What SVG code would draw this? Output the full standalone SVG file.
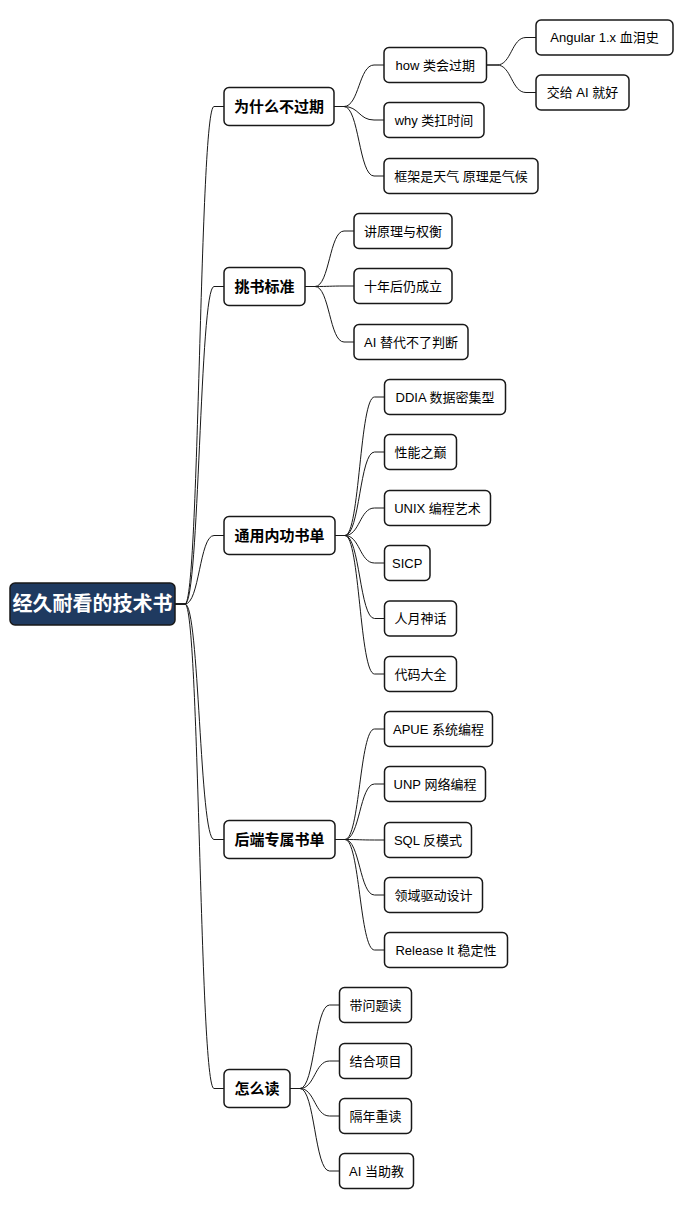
<svg xmlns="http://www.w3.org/2000/svg" width="693" height="1209" viewBox="0 0 693 1209">
<style>
.bg{fill:#ffffff}
.conn path{fill:none;stroke:#181818;stroke-width:1}
.box{fill:#ffffff;stroke:#181818;stroke-width:1.5}
.rootbox{fill:#1f3a60;stroke:#181818;stroke-width:1.5}
text{font-family:"Liberation Sans","Noto Sans CJK SC",sans-serif;text-anchor:middle;dominant-baseline:central;fill:#000000}
.t2{font-size:13px}
.t1{font-size:15px;font-weight:bold}
.t0{font-size:20px;font-weight:bold;fill:#ffffff}
</style>
<rect class="bg" x="0" y="0" width="693" height="1209"/>
<g id="connectors" class="conn">
<path d="M175,604 H185 C199.5,604 199.5,106.5 214,106.5 H224"/>
<path d="M175,604 H185 C199.5,604 199.5,286.5 214,286.5 H224"/>
<path d="M175,604 H185 C199.5,604 199.5,535.5 214,535.5 H224"/>
<path d="M175,604 H185 C199.5,604 199.5,839.5 214,839.5 H224"/>
<path d="M175,604 H185 C199.5,604 199.5,1088.5 214,1088.5 H224"/>
<path d="M334,106.5 H344 C359,106.5 359,65 374,65 H384"/>
<path d="M334,106.5 H344 C359,106.5 359,120 374,120 H384"/>
<path d="M334,106.5 H344 C359,106.5 359,176 374,176 H384"/>
<path d="M486.5,65 H497 C511.5,65 511.5,37.5 526,37.5 H536"/>
<path d="M486.5,65 H497 C511.5,65 511.5,92.5 526,92.5 H536"/>
<path d="M305,286.5 H315 C329.5,286.5 329.5,231 344,231 H354"/>
<path d="M305,286.5 H315 C329.5,286.5 329.5,286 344,286 H354"/>
<path d="M305,286.5 H315 C329.5,286.5 329.5,342 344,342 H354"/>
<path d="M335,535.5 H345 C359.75,535.5 359.75,397 374.5,397 H384.5"/>
<path d="M335,535.5 H345 C359.75,535.5 359.75,452 374.5,452 H384.5"/>
<path d="M335,535.5 H345 C359.75,535.5 359.75,508 374.5,508 H384.5"/>
<path d="M335,535.5 H345 C359.75,535.5 359.75,563 374.5,563 H384.5"/>
<path d="M335,535.5 H345 C359.75,535.5 359.75,618.5 374.5,618.5 H384.5"/>
<path d="M335,535.5 H345 C359.75,535.5 359.75,674 374.5,674 H384.5"/>
<path d="M335,839.5 H345 C359.75,839.5 359.75,729 374.5,729 H384.5"/>
<path d="M335,839.5 H345 C359.75,839.5 359.75,784 374.5,784 H384.5"/>
<path d="M335,839.5 H345 C359.75,839.5 359.75,840 374.5,840 H384.5"/>
<path d="M335,839.5 H345 C359.75,839.5 359.75,895 374.5,895 H384.5"/>
<path d="M335,839.5 H345 C359.75,839.5 359.75,950 374.5,950 H384.5"/>
<path d="M290,1088.5 H300 C314.75,1088.5 314.75,1005 329.5,1005 H339.5"/>
<path d="M290,1088.5 H300 C314.75,1088.5 314.75,1061 329.5,1061 H339.5"/>
<path d="M290,1088.5 H300 C314.75,1088.5 314.75,1116 329.5,1116 H339.5"/>
<path d="M290,1088.5 H300 C314.75,1088.5 314.75,1171 329.5,1171 H339.5"/>
</g>
<g id="root"><rect class="rootbox" x="10" y="583" width="165" height="42" rx="5"/><text class="t0" x="92.5" y="604">经久耐看的技术书</text></g>
<g id="n-why"><rect class="box" x="224" y="87.5" width="110" height="38" rx="5"/><text class="t1" x="279" y="106.5">为什么不过期</text></g>
<g id="n-how"><rect class="box" x="384" y="47.5" width="102.5" height="35" rx="5"/><text class="t2" x="435.25" y="65">how 类会过期</text></g>
<g id="n-angular"><rect class="box" x="536" y="20" width="137" height="35" rx="5"/><text class="t2" x="604.5" y="37.5">Angular 1.x 血泪史</text></g>
<g id="n-ai"><rect class="box" x="536" y="75" width="93" height="35" rx="5"/><text class="t2" x="582.5" y="92.5">交给 AI 就好</text></g>
<g id="n-whytype"><rect class="box" x="384" y="102.5" width="100" height="35" rx="5"/><text class="t2" x="434" y="120">why 类扛时间</text></g>
<g id="n-climate"><rect class="box" x="384" y="158.5" width="154" height="35" rx="5"/><text class="t2" x="461" y="176">框架是天气 原理是气候</text></g>
<g id="n-pick"><rect class="box" x="224" y="267.5" width="81" height="38" rx="5"/><text class="t1" x="264.5" y="286.5">挑书标准</text></g>
<g id="n-principle"><rect class="box" x="354" y="213.5" width="98" height="35" rx="5"/><text class="t2" x="403" y="231">讲原理与权衡</text></g>
<g id="n-tenyears"><rect class="box" x="354" y="268.5" width="98" height="35" rx="5"/><text class="t2" x="403" y="286">十年后仍成立</text></g>
<g id="n-judge"><rect class="box" x="354" y="324.5" width="114" height="35" rx="5"/><text class="t2" x="411" y="342">AI 替代不了判断</text></g>
<g id="n-general"><rect class="box" x="224" y="516.5" width="111" height="38" rx="5"/><text class="t1" x="279.5" y="535.5">通用内功书单</text></g>
<g id="n-ddia"><rect class="box" x="384.5" y="379.5" width="121" height="35" rx="5"/><text class="t2" x="445" y="397">DDIA 数据密集型</text></g>
<g id="n-perf"><rect class="box" x="384.5" y="434.5" width="72" height="35" rx="5"/><text class="t2" x="420.5" y="452">性能之巅</text></g>
<g id="n-unix"><rect class="box" x="384.5" y="490.5" width="106" height="35" rx="5"/><text class="t2" x="437.5" y="508">UNIX 编程艺术</text></g>
<g id="n-sicp"><rect class="box" x="384.5" y="545.5" width="45.5" height="35" rx="5"/><text class="t2" x="407.25" y="563">SICP</text></g>
<g id="n-mmm"><rect class="box" x="384.5" y="601" width="72" height="35" rx="5"/><text class="t2" x="420.5" y="618.5">人月神话</text></g>
<g id="n-codecomplete"><rect class="box" x="384.5" y="656.5" width="72" height="35" rx="5"/><text class="t2" x="420.5" y="674">代码大全</text></g>
<g id="n-backend"><rect class="box" x="224" y="820.5" width="111" height="38" rx="5"/><text class="t1" x="279.5" y="839.5">后端专属书单</text></g>
<g id="n-apue"><rect class="box" x="384.5" y="711.5" width="108" height="35" rx="5"/><text class="t2" x="438.5" y="729">APUE 系统编程</text></g>
<g id="n-unp"><rect class="box" x="384.5" y="766.5" width="101" height="35" rx="5"/><text class="t2" x="435" y="784">UNP 网络编程</text></g>
<g id="n-sql"><rect class="box" x="384.5" y="822.5" width="87" height="35" rx="5"/><text class="t2" x="428" y="840">SQL 反模式</text></g>
<g id="n-ddd"><rect class="box" x="384.5" y="877.5" width="98" height="35" rx="5"/><text class="t2" x="433.5" y="895">领域驱动设计</text></g>
<g id="n-release"><rect class="box" x="384.5" y="932.5" width="123" height="35" rx="5"/><text class="t2" x="446" y="950">Release It 稳定性</text></g>
<g id="n-howread"><rect class="box" x="224" y="1069.5" width="66" height="38" rx="5"/><text class="t1" x="257" y="1088.5">怎么读</text></g>
<g id="n-question"><rect class="box" x="339.5" y="987.5" width="72" height="35" rx="5"/><text class="t2" x="375.5" y="1005">带问题读</text></g>
<g id="n-project"><rect class="box" x="339.5" y="1043.5" width="72" height="35" rx="5"/><text class="t2" x="375.5" y="1061">结合项目</text></g>
<g id="n-reread"><rect class="box" x="339.5" y="1098.5" width="72" height="35" rx="5"/><text class="t2" x="375.5" y="1116">隔年重读</text></g>
<g id="n-tutor"><rect class="box" x="339.5" y="1153.5" width="74" height="35" rx="5"/><text class="t2" x="376.5" y="1171">AI 当助教</text></g>
</svg>
